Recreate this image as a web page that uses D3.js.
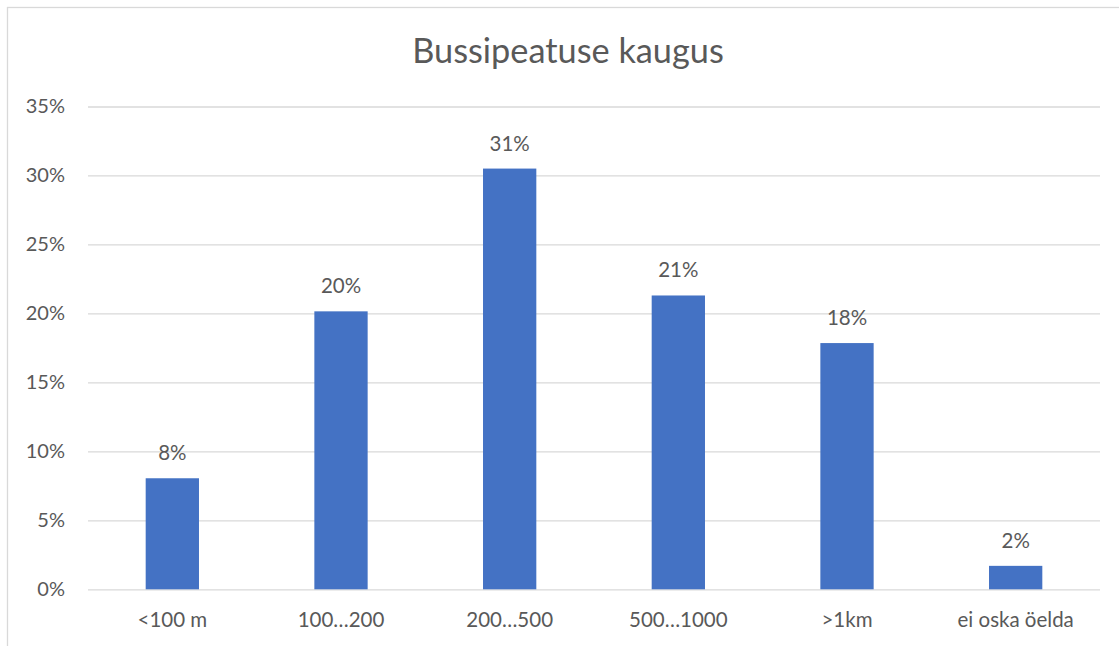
<!DOCTYPE html>
<html>
<head>
<meta charset="utf-8">
<script src="https://cdn.jsdelivr.net/npm/d3@7"></script>
<style>
  body { margin: 0; background: #fff; }
  text { font-family: Lato, "Open Sans", sans-serif; fill: #595959; }
</style>
</head>
<body>
<div id="chart"></div>
<script>
// chart values
let categories = ["<100 m", "100…200", "200…500", "500…1000", ">1km", "ei oska öelda"];
let shares = [8.05, 20.15, 30.5, 21.3, 17.85, 1.7];
let yTicks = [0, 5, 10, 15, 20, 25, 30, 35];
let chartTitle = "Bussipeatuse kaugus";

let svgWidth = 1119;
let svgHeight = 646;
let margin = { top: 106.5, right: 19, bottom: 56.7, left: 88 };
let chartWidth = svgWidth - margin.left - margin.right;
let chartHeight = svgHeight - margin.top - margin.bottom;

let svg = d3.select("#chart").append("svg")
  .attr("width", svgWidth)
  .attr("height", svgHeight);

// outer chart border (runs off the right and bottom edges)
svg.append("rect")
  .attr("x", 7.5).attr("y", 7.5)
  .attr("width", svgWidth + 20).attr("height", svgHeight + 20)
  .attr("fill", "none")
  .attr("stroke", "#d9d9d9")
  .attr("stroke-width", 1.3);

svg.append("text")
  .attr("x", 568).attr("y", 63)
  .attr("text-anchor", "middle")
  .style("font-size", "34.3px")
  .text(chartTitle);

let g = svg.append("g").attr("transform", `translate(${margin.left}, ${margin.top})`);

let x = d3.scaleBand().domain(categories).range([0, chartWidth]).paddingInner(0.684).paddingOuter(0.342);
let y = d3.scaleLinear().domain([0, 35]).range([chartHeight, 0]);

// gridlines + y labels
let yAxis = d3.axisLeft(y).tickValues(yTicks).tickSize(-chartWidth).tickPadding(23).tickFormat(d => d + "%");
let yg = g.append("g").call(yAxis);
yg.select(".domain").remove();
yg.selectAll(".tick line").attr("stroke", "#d9d9d9").attr("stroke-width", 1.3);
yg.selectAll(".tick text").style("font-size", "20px").attr("fill", "#595959");

// bars
g.selectAll(".bar").data(shares).enter().append("rect")
  .attr("class", "bar")
  .attr("x", (d, i) => x(categories[i]))
  .attr("y", d => y(d))
  .attr("width", x.bandwidth())
  .attr("height", d => chartHeight - y(d))
  .attr("fill", "#4472c4");

// value labels
g.selectAll(".val").data(shares).enter().append("text")
  .attr("class", "val")
  .attr("x", (d, i) => x(categories[i]) + x.bandwidth() / 2)
  .attr("y", d => y(d) - 18)
  .attr("text-anchor", "middle")
  .style("font-size", "20.5px")
  .text(d => Math.round(d) + "%");

// category labels
let xAxis = d3.axisBottom(x).tickSize(0).tickPadding(0);
let xg = g.append("g").attr("transform", `translate(0, ${chartHeight})`).call(xAxis);
xg.select(".domain").remove();
xg.selectAll(".tick text")
  .attr("dy", null)
  .attr("y", 38)
  .style("font-size", "20.5px")
  .attr("fill", "#595959");
</script>
</body>
</html>
